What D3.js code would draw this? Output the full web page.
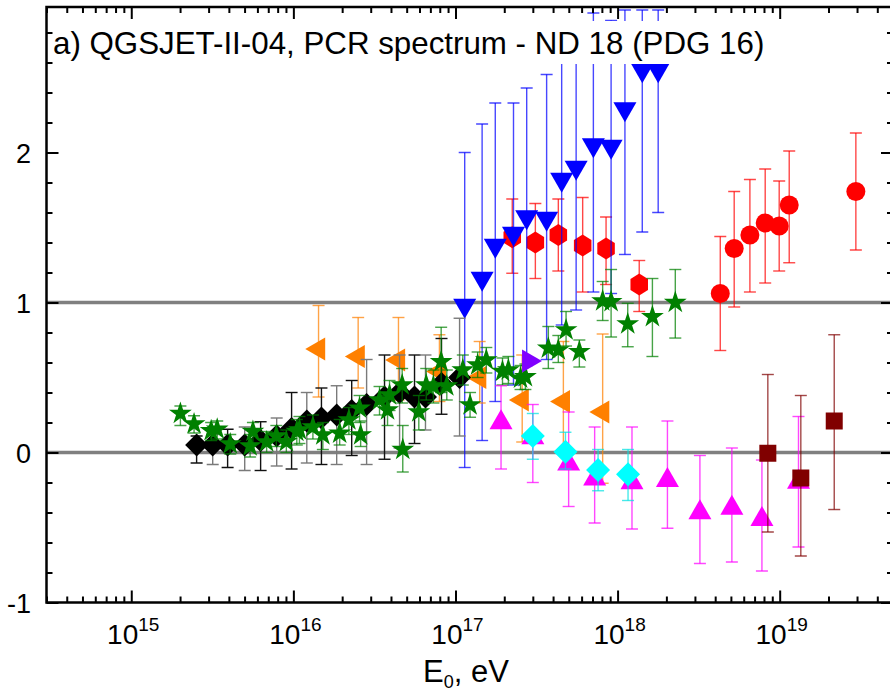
<!DOCTYPE html>
<html>
<head>
<meta charset="utf-8">
<script src="https://cdn.jsdelivr.net/npm/d3@7"></script>
<style>
  body { margin: 0; background: #fff; }
  svg { display: block; font-family: "Liberation Sans", Arial, sans-serif; }
</style>
</head>
<body>
<div id="chart"></div>
<script>
let w = 890;
let h = 694;

// rows: [E0 (eV), value, error low end, error high end]
let blackDiamonds = [
  [2.53e15, 0.05, -0.07, 0.11], [3.18e15, 0.05, -0.08, 0.12], [3.93e15, 0.05, -0.10, 0.155],
  [5.01e15, 0.05, -0.12, 0.17], [6.28e15, 0.08, -0.12, 0.205], [7.89e15, 0.11, -0.09, 0.23],
  [9.75e15, 0.16, -0.11, 0.40], [1.21e16, 0.21, -0.07, 0.40], [1.49e16, 0.23, -0.08, 0.43],
  [1.85e16, 0.25, -0.08, 0.445], [2.29e16, 0.28, -0.02, 0.48], [2.83e16, 0.32, -0.08, 0.62],
  [3.65e16, 0.37, -0.045, 0.65], [4.52e16, 0.40, 0.03, 0.65], [5.59e16, 0.37, 0.06, 0.65],
  [6.53e16, 0.37, 0.15, 0.65], [8.2e16, 0.46, 0.255, 0.76], [1.06e17, 0.50, 0.11, 0.895]
];

let greenStars = [
  [2.01e15, 0.26, 0.18, 0.31], [2.44e15, 0.19, 0.13, 0.245], [3.11e15, 0.145, 0.08, 0.20],
  [3.39e15, 0.155, 0.09, 0.21], [4.08e15, 0.057, -0.01, 0.12], [5.41e15, 0.043, -0.03, 0.12],
  [5.63e15, 0.14, 0.06, 0.20], [6.84e15, 0.07, 0.0, 0.14], [7.85e15, 0.11, 0.04, 0.18],
  [9.05e15, 0.072, 0.0, 0.15], [1.05e16, 0.14, 0.05, 0.22], [1.09e16, 0.15, 0.06, 0.24],
  [1.32e16, 0.17, 0.09, 0.25], [1.52e16, 0.117, 0.02, 0.20], [1.93e16, 0.128, 0.05, 0.22],
  [2.2e16, 0.217, 0.12, 0.30], [2.6e16, 0.117, 0.04, 0.21], [2.56e16, 0.295, 0.20, 0.38],
  [3.4e16, 0.35, 0.25, 0.44], [3.92e16, 0.383, 0.28, 0.48], [3.81e16, 0.283, 0.18, 0.38],
  [4.69e16, 0.45, 0.33, 0.56], [4.73e16, 0.02, -0.13, 0.18], [5.94e16, 0.27, 0.15, 0.38],
  [6.6e16, 0.45, 0.35, 0.56], [7.31e16, 0.44, 0.33, 0.55], [8.16e16, 0.605, 0.40, 0.835],
  [8.84e16, 0.443, 0.35, 0.55], [1.11e17, 0.55, 0.45, 0.65], [1.23e17, 0.317, 0.235, 0.40],
  [1.37e17, 0.583, 0.50, 0.67], [1.55e17, 0.617, 0.53, 0.70], [1.95e17, 0.54, 0.45, 0.63],
  [2.12e17, 0.55, 0.46, 0.64], [2.52e17, 0.495, 0.42, 0.58], [2.7e17, 0.505, 0.42, 0.59],
  [3.74e17, 0.695, 0.56, 0.84], [4.31e17, 0.683, 0.60, 0.78], [4.81e17, 0.817, 0.71, 0.94],
  [5.81e17, 0.672, 0.57, 0.75], [8.09e17, 1.01, 0.88, 1.14], [9.12e17, 1.005, 0.77, 1.22],
  [1.155e18, 0.857, 0.705, 0.995], [1.64e18, 0.905, 0.64, 1.16], [2.27e18, 1.0, 0.763, 1.22]
];

let orangeLeft = [
  [1.43e16, 0.69, 0.37, 0.98], [2.51e16, 0.64, 0.43, 0.90], [4.45e16, 0.617, 0.35, 0.90],
  [7.96e16, 0.54, 0.34, 0.785], [1.41e17, 0.50, 0.33, 0.74], [2.58e17, 0.35, 0.07, 0.65],
  [4.63e17, 0.34, 0.0, 0.74], [8.09e17, 0.27, -0.205, 0.79]
];

let blueDown = [
  [1.14e17, 0.98, -0.10, 2.00], [1.46e17, 1.16, 0.08, 2.19], [1.76e17, 1.38, 0.34, 2.33],
  [2.28e17, 1.46, 0.45, 2.33], [2.75e17, 1.57, 0.58, 2.43], [3.65e17, 1.56, 0.62, 2.52],
  [4.52e17, 1.82, 0.85, 2.85], [5.55e17, 1.90, 0.95, 2.85], [7.09e17, 2.05, 1.07, 2.93],
  [9.12e17, 2.04, 1.06, 2.88], [1.11e18, 2.29, 1.32, 2.95], [1.42e18, 2.55, 1.47, 2.95],
  [1.78e18, 2.55, 1.60, 2.95]
];

let redHexagons = [
  [2.24e17, 1.435, 1.195, 1.69], [3.11e17, 1.40, 1.16, 1.66], [4.31e17, 1.45, 1.21, 1.69],
  [6.09e17, 1.38, 1.07, 1.70], [8.49e17, 1.36, 1.12, 1.57], [1.36e18, 1.12, 0.94, 1.28]
];

let redCircles = [
  [4.3e18, 1.06, 0.68, 1.44], [5.24e18, 1.36, 0.97, 1.74], [6.55e18, 1.45, 1.07, 1.82],
  [8.14e18, 1.53, 1.13, 1.89], [9.93e18, 1.51, 1.21, 1.81], [1.145e19, 1.65, 1.265, 2.01],
  [2.95e19, 1.74, 1.35, 2.13]
];

let magentaUp = [
  [1.91e17, 0.20, -0.11, 0.445], [3.0e17, 0.10, -0.20, 0.32], [4.99e17, -0.075, -0.36, 0.27],
  [7.22e17, -0.175, -0.47, 0.17], [1.227e18, -0.20, -0.51, 0.17], [2.03e18, -0.186, -0.505, 0.21],
  [3.22e18, -0.40, -0.74, -0.02], [5.07e18, -0.37, -0.73, 0.03], [7.77e18, -0.445, -0.79, -0.05],
  [1.306e19, -0.197, -0.63, 0.24]
];

let cyanDiamonds = [
  [3.0e17, 0.11, -0.045, 0.26], [4.77e17, 0.005, -0.11, 0.135],
  [7.58e17, -0.117, -0.255, 0.02], [1.16e18, -0.145, -0.32, 0.02]
];

let purpleRight = [[2.83e17, 0.61, 0.61, 0.61]];

let darkRedSquares = [
  [8.45e18, -0.005, -0.53, 0.52], [1.35e19, -0.17, -0.69, 0.38], [2.17e19, 0.21, -0.38, 0.785]
];

let xMajor = [1e15, 1e16, 1e17, 1e18, 1e19];
let yMajor = [-1, 0, 1, 2];
let refLines = [0, 1];
let title = "a) QGSJET-II-04, PCR spectrum - ND 18 (PDG 16)";

let x = d3.scaleLog().domain([3e14, 5e19]).range([46.5, 893]);
let y = d3.scaleLinear().domain([-1, 2.97]).range([602.5, 7]);

let svg = d3.select("#chart").append("svg")
  .attr("width", w)
  .attr("height", h)
  .attr("viewBox", "0 0 " + w + " " + h);

svg.append("defs").append("clipPath").attr("id", "plotClip")
  .append("rect")
  .attr("x", x.range()[0]).attr("y", y.range()[1])
  .attr("width", x.range()[1] - x.range()[0])
  .attr("height", y.range()[0] - y.range()[1]);

// gray reference lines
svg.append("g").selectAll("line").data(refLines).enter()
  .append("line")
  .attr("x1", x.range()[0]).attr("x2", x.range()[1])
  .attr("y1", d => y(d)).attr("y2", d => y(d))
  .attr("stroke", "#808080")
  .attr("stroke-width", 3.5);

function shapePath(shape, s) {
  if (shape == "diamond") return "M0," + (-s) + "L" + s + ",0L0," + s + "L" + (-s) + ",0Z";
  if (shape == "square") return "M" + (-s) + "," + (-s) + "h" + (2 * s) + "v" + (2 * s) + "h" + (-2 * s) + "Z";
  if (shape == "hexagon") {
    let pts = d3.range(6).map(k => {
      let a = Math.PI / 2 + k * Math.PI / 3;
      return [s * 0.92 * Math.cos(a), s * Math.sin(a)];
    });
    return "M" + pts.join("L") + "Z";
  }
  if (shape == "circle") return d3.symbol(d3.symbolCircle, Math.PI * s * s)();
  if (shape == "star") return d3.symbol(d3.symbolStar, s * s / 0.8908130915292852)();
  // triangle, side length 2s, centred on its centroid
  return d3.symbol(d3.symbolTriangle, Math.sqrt(3) * s * s)();
}

let series = [
  { data: redHexagons, shape: "hexagon", size: 11, rot: 0, fill: "#ff0000", err: "#ff0000" },
  { data: blueDown, shape: "triangle", size: 11.5, rot: 180, fill: "#0000ff", err: "#0000ff" },
  { data: orangeLeft, shape: "triangle", size: 11.5, rot: -90, fill: "#ff8000", err: "#ff8000" },
  { data: blackDiamonds, shape: "diamond", size: 11.5, rot: 0, fill: "#000000", err: "alt" },
  { data: greenStars, shape: "star", size: 12, rot: 0, fill: "#008000", err: "#008000" },
  { data: magentaUp, shape: "triangle", size: 11.5, rot: 0, fill: "#ff00ff", err: "#ff00ff" },
  { data: cyanDiamonds, shape: "diamond", size: 12, rot: 0, fill: "#00ffff", err: "#00e0e0" },
  { data: purpleRight, shape: "triangle", size: 11.5, rot: 90, fill: "#8000ff", err: "#8000ff" },
  { data: redCircles, shape: "circle", size: 9.5, rot: 0, fill: "#ff0000", err: "#ff0000" },
  { data: darkRedSquares, shape: "square", size: 8.5, rot: 0, fill: "#800000", err: "#800000" }
];

let dataGroup = svg.append("g").attr("clip-path", "url(#plotClip)");
let cap = 6;

series.forEach(s => {
  let g = dataGroup.append("g");
  let bars = g.selectAll(".err").data(s.data.filter(d => d[3] > d[2])).enter()
    .append("g")
    .attr("class", "err")
    .attr("stroke", (d, i) => s.err == "alt" ? (i % 2 ? "#7a7a7a" : "#111") : s.err)
    .attr("stroke-opacity", s.err == "alt" ? 1 : 0.72)
    .attr("stroke-width", 1.4);
  bars.append("line")
    .attr("x1", d => x(d[0])).attr("x2", d => x(d[0]))
    .attr("y1", d => y(d[2])).attr("y2", d => y(d[3]));
  bars.append("line")
    .attr("x1", d => x(d[0]) - cap).attr("x2", d => x(d[0]) + cap)
    .attr("y1", d => y(d[2])).attr("y2", d => y(d[2]));
  bars.append("line")
    .attr("x1", d => x(d[0]) - cap).attr("x2", d => x(d[0]) + cap)
    .attr("y1", d => y(d[3])).attr("y2", d => y(d[3]));

  g.selectAll(".mark").data(s.data).enter()
    .append("path")
    .attr("class", "mark")
    .attr("d", shapePath(s.shape, s.size))
    .attr("transform", d => "translate(" + x(d[0]) + "," + y(d[1]) + ") rotate(" + s.rot + ")")
    .attr("fill", s.fill);
});

// title with white box behind it
svg.append("rect")
  .attr("x", 50).attr("y", 21)
  .attr("width", 718).attr("height", 43)
  .attr("fill", "#fff");
svg.append("text")
  .attr("x", 53).attr("y", 54)
  .attr("font-size", 31.3)
  .attr("fill", "#000")
  .text(title);

// axes
let xMinor = x.ticks().filter(d => xMajor.indexOf(d) < 0);
let yMinor = d3.range(-1, 2.97, 0.2).map(d => +d.toFixed(1)).filter(d => yMajor.indexOf(d) < 0);

function styleAxis(g) {
  g.select(".domain").remove();
  g.selectAll(".tick line").attr("stroke", "#000").attr("stroke-width", 2);
  g.selectAll(".tick text").remove();
}

let axes = [
  { axis: d3.axisBottom, scale: x, pos: "translate(0," + y.range()[0] + ")" },
  { axis: d3.axisTop, scale: x, pos: "translate(0," + y.range()[1] + ")" },
  { axis: d3.axisLeft, scale: y, pos: "translate(" + x.range()[0] + ",0)" },
  { axis: d3.axisRight, scale: y, pos: "translate(" + x.range()[1] + ",0)" }
];
axes.forEach(a => {
  let major = a.scale === x ? xMajor : yMajor;
  let minor = a.scale === x ? xMinor : yMinor;
  svg.append("g").attr("transform", a.pos)
    .call(a.axis(a.scale).tickValues(minor).tickSize(-6).tickSizeOuter(0))
    .call(styleAxis);
  svg.append("g").attr("transform", a.pos)
    .call(a.axis(a.scale).tickValues(major).tickSize(-12).tickSizeOuter(0))
    .call(styleAxis);
});

// frame
svg.append("rect")
  .attr("x", x.range()[0]).attr("y", y.range()[1])
  .attr("width", x.range()[1] - x.range()[0])
  .attr("height", y.range()[0] - y.range()[1])
  .attr("fill", "none")
  .attr("stroke", "#000")
  .attr("stroke-width", 2.5);

// y tick labels
svg.append("g").selectAll("text").data(yMajor).enter()
  .append("text")
  .attr("x", 31)
  .attr("y", d => y(d) + 10)
  .attr("text-anchor", "end")
  .attr("font-size", 27)
  .text(d => d == -1 ? "-1" : d);

// x tick labels 10^n
let xl = svg.append("g").selectAll("text").data(xMajor).enter()
  .append("text")
  .attr("x", d => x(d) + 2)
  .attr("y", 644)
  .attr("text-anchor", "middle")
  .attr("font-size", 28);
xl.append("tspan").text("10");
xl.append("tspan")
  .attr("font-size", 19)
  .attr("dy", -13)
  .text(d => Math.round(Math.log10(d)));

// axis title
let xt = svg.append("text")
  .attr("x", 466)
  .attr("y", 682)
  .attr("text-anchor", "middle")
  .attr("font-size", 31);
xt.append("tspan").text("E");
xt.append("tspan").attr("font-size", 18).attr("dy", 6).text("0");
xt.append("tspan").attr("dy", -6).text(", eV");
</script>
</body>
</html>
